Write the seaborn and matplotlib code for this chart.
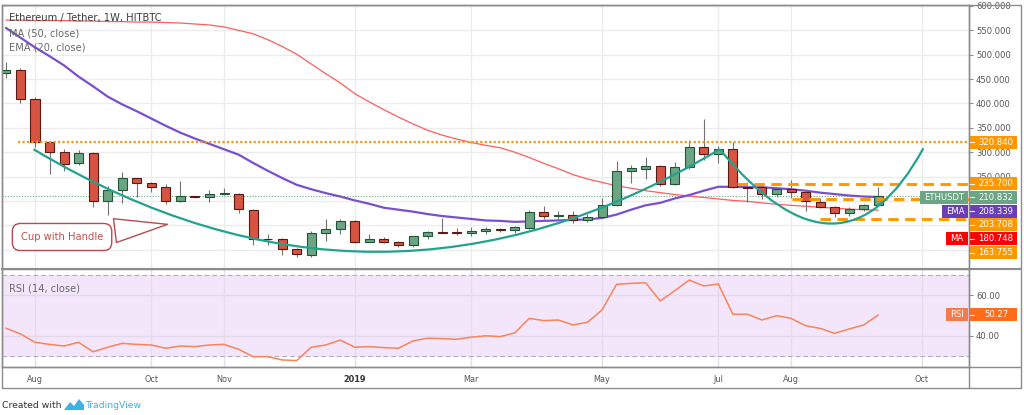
import matplotlib
matplotlib.use("Agg")
import matplotlib.pyplot as plt
import seaborn as sns
from matplotlib.path import Path
from matplotlib.patches import PathPatch, Rectangle, Polygon

# weekly ETH/USDT candles, first week = 2018-07-23
opens  = [462, 469, 409, 320, 301, 277, 298, 199, 222, 246, 237, 229, 200, 210, 209, 214, 214, 182, 122, 122,
          101, 90, 134, 142, 158, 116, 122, 116, 110, 127, 137, 137, 135, 138, 142, 140, 145, 177, 170, 172,
          161, 166, 191, 262, 266, 271, 234, 270, 310, 296, 306, 229, 228, 214, 225, 218, 198, 188, 175, 184, 191]
highs  = [485, 472, 414, 322, 307, 304, 300, 231, 260, 248, 239, 234, 241, 211, 222, 227, 216, 184, 132, 124,
          103, 138, 163, 162, 160, 132, 125, 118, 129, 138, 165, 145, 146, 147, 144, 149, 181, 190, 179, 179,
          174, 207, 282, 273, 291, 273, 279, 324, 368, 313, 321, 238, 233, 226, 242, 222, 205, 190, 188, 193, 228]
lows   = [452, 401, 311, 255, 262, 274, 188, 172, 195, 209, 219, 193, 198, 206, 198, 212, 176, 109, 110, 90,
          85, 84, 118, 133, 114, 115, 114, 105, 106, 121, 134, 131, 127, 133, 137, 134, 143, 163, 162, 155,
          156, 164, 190, 236, 245, 231, 233, 265, 284, 277, 227, 198, 203, 209, 205, 180, 185, 167, 170, 180, 190]
closes = [469, 409, 320, 301, 276, 298, 199, 222, 248, 236, 229, 200, 210, 208, 215, 217, 183, 122, 121, 101,
          91, 135, 142, 158, 116, 122, 116, 110, 128, 136, 135, 134, 139, 142, 140, 146, 177, 170, 172, 161,
          166, 191, 262, 267, 271, 234, 270, 310, 296, 306, 229, 227, 214, 224, 219, 199, 188, 175, 184, 191, 210.832]

ma50 = [571, 571, 570, 570, 570, 569, 569, 568, 568, 567, 567, 566, 565, 563, 561, 557, 550, 543, 531, 517,
        501, 481, 461, 442, 420, 403, 387, 372, 358, 345, 335, 327, 320, 314, 309, 300, 289, 277, 266, 254,
        245, 238, 231, 226, 221, 217, 213, 210, 207, 204, 201, 199, 196, 193, 191, 189, 187, 185, 183, 182, 181]
ema20 = [555, 535, 515, 497, 478, 455, 435, 414, 398, 384, 369, 354, 340, 328, 317, 306, 295, 278, 262, 247,
         233, 224, 216, 209, 201, 194, 186, 182, 178, 173, 169, 166, 163, 160, 159, 157, 158, 159, 160, 161,
         162, 165, 172, 182, 191, 196, 205, 212, 221, 229, 229, 228, 228, 226, 224, 221, 217, 214, 211, 209, 208]
rsi = [43.8, 41.0, 36.9, 35.9, 35.1, 36.9, 32.3, 34.5, 36.4, 35.9, 35.6, 34.0, 35.1, 34.8, 35.6, 35.9, 33.5,
       29.9, 29.9, 28.3, 28.0, 34.5, 35.6, 38.0, 34.5, 34.8, 34.3, 34.0, 37.6, 38.9, 38.7, 38.4, 39.4, 40.1,
       39.7, 41.5, 48.6, 47.5, 47.8, 45.4, 46.7, 52.7, 65.2, 65.7, 66.0, 57.1, 62.1, 67.3, 64.4, 65.4, 50.6,
       50.6, 47.8, 49.9, 48.6, 45.0, 43.7, 41.3, 43.4, 45.4, 50.27]

month_idx = [2, 10, 15, 24, 32, 41, 49, 54, 63]
month_lbl = ["Aug", "Oct", "Nov", "2019", "Mar", "May", "Jul", "Aug", "Oct"]
price_ticks = [250, 300, 350, 400, 450, 500, 550, 600]

resistance = 320.84
handle_top, handle_mid, handle_low = 235.70, 203.708, 163.755
ema_last, ma_last = 208.339, 180.748
# hand drawn cup & handle (quadratic bezier anchor points, week index / price)
cup_pts = [(1.9, 306), (25.5, -115), (49.1, 306)]
handle_pts = [(49.1, 306), (57.5, 0), (63.1, 308)]

UP, DOWN = "#6ba583", "#d75442"
UP_EDGE, DOWN_EDGE = "#225437", "#5b1a13"
ORANGE = "#ff9800"
GRID = "#ececec"
FRAME = "#8c8c8c"
TXT = "#555555"

sns.set_style("white")
plt.rcParams["font.family"] = ["DejaVu Sans"]

W, H = 1024, 415
fig = plt.figure(figsize=(W / 100, H / 100), dpi=100)
ax = fig.add_axes([2 / W, (H - 269) / H, 967 / W, 264 / H])
axr = fig.add_axes([2 / W, (H - 366.5) / H, 967 / W, 97.5 / H])

x = list(range(len(closes)))
xlim = (-0.27, 66.24)

# ---- main price panel ----
ax.set_xlim(*xlim)
ax.set_ylim(60.3, 602)
for p in range(100, 601, 50):
    ax.axhline(p, color=GRID, lw=1, zorder=0)
for m in month_idx:
    ax.axvline(m, color=GRID, lw=1, zorder=0)

ax.axhline(closes[-1], color=UP, lw=0.8, ls=(0, (1, 1.5)), zorder=1)

sns.lineplot(x=x, y=ma50, ax=ax, color="#ff5c5c", lw=0.9, zorder=2)
sns.lineplot(x=x, y=ema20, ax=ax, color="#7a4fcf", lw=1.6, zorder=2)

for i in x:
    o, h, l, c = opens[i], highs[i], lows[i], closes[i]
    up = c >= o
    ax.vlines(i, l, h, color="#737375", lw=0.8, zorder=3)
    ax.bar(i, max(abs(c - o), 1.6), bottom=min(o, c), width=0.62,
           color=UP if up else DOWN, edgecolor=UP_EDGE if up else DOWN_EDGE, lw=0.8, zorder=4)

# drawings
ax.hlines(resistance, 0.83, xlim[1], color=ORANGE, lw=1.6, linestyles=(0, (1, 1)), zorder=5)
for lvl, start in ((handle_top, 50.3), (handle_mid, 54.1), (handle_low, 56.0)):
    ax.hlines(lvl, start, xlim[1], color=ORANGE, lw=2.1, linestyles=(0, (3.6, 2.2)), zorder=5)

for pts in (cup_pts, handle_pts):
    path = Path(pts, [Path.MOVETO, Path.CURVE3, Path.CURVE3])
    ax.add_patch(PathPatch(path, fc="none", ec="#22a38f", lw=1.6, zorder=6))

ax.annotate("Cup with Handle", xy=(11.3, 152.6), xytext=(3.86, 126), ha="center", va="center",
            fontsize=7.2, color="#c0504d", zorder=7,
            bbox=dict(boxstyle="round,pad=0.85,rounding_size=0.8", fc="white", ec="#b84a50", lw=1),
            arrowprops=dict(arrowstyle="wedge,tail_width=2.4,shrink_factor=0.5",
                            fc="white", ec="#b84a50", lw=1))

ax.yaxis.tick_right()
ax.set_yticks(price_ticks)
ax.set_yticklabels([f"{p:.3f}" for p in price_ticks])
ax.set_xticks(month_idx)
ax.set_xticklabels([])
ax.tick_params(axis="y", length=3, width=0.8, color=FRAME, labelsize=6.1, labelcolor=TXT, pad=2)
ax.tick_params(axis="x", length=0)
for s in ax.spines.values():
    s.set_color(FRAME)
    s.set_linewidth(1)

ax.text(0.007, 0.95, "Ethereum / Tether, 1W, HITBTC", transform=ax.transAxes, fontsize=7.1, color="#3c3c3c", va="center")
ax.text(0.007, 0.893, "MA (50, close)", transform=ax.transAxes, fontsize=7.1, color="#6a6a6a", va="center")
ax.text(0.007, 0.840, "EMA (20, close)", transform=ax.transAxes, fontsize=7.1, color="#6a6a6a", va="center")

# ---- RSI panel ----
axr.set_xlim(*xlim)
axr.set_ylim(25.1, 72.7)
axr.axhspan(30, 70, color="#f3e6fb", zorder=0)
for v in (40, 60):
    axr.axhline(v, color="#e2d8ea", lw=1, zorder=0.5)
for m in month_idx:
    axr.axvline(m, color="#e4dcea", lw=1, zorder=0.5)
for v in (30, 70):
    axr.axhline(v, color="#b3adb8", lw=0.8, ls=(0, (4, 3)), zorder=1)
sns.lineplot(x=x, y=rsi, ax=axr, color="#f7845a", lw=1.1, zorder=2)
axr.yaxis.tick_right()
axr.set_yticks([40, 60])
axr.set_yticklabels(["40.00", "60.00"])
axr.set_xticks(month_idx)
axr.set_xticklabels(month_lbl)
axr.tick_params(axis="y", length=3, width=0.8, color=FRAME, labelsize=6.1, labelcolor=TXT, pad=2)
axr.tick_params(axis="x", length=3, width=0.8, color=FRAME, labelsize=5.9, labelcolor=TXT, pad=3)
for t in axr.get_xticklabels():
    if t.get_text() == "2019":
        t.set_fontweight("bold")
        t.set_color("#333333")
for s in axr.spines.values():
    s.set_color(FRAME)
    s.set_linewidth(1)
for a in (ax, axr):
    a.set_xlabel("")
    a.set_ylabel("")
axr.text(0.007, 0.80, "RSI (14, close)", transform=axr.transAxes, fontsize=7.1, color="#6a6a6a", va="center")

# ---- overlay: frame, price tags, footer ----
ov = fig.add_axes([0, 0, 1, 1], zorder=10)
ov.set_xlim(0, W)
ov.set_ylim(H, 0)
ov.axis("off")
ov.patch.set_visible(False)
ov.plot([2, 1021, 1021, 2, 2], [5, 5, 388, 388, 5], color=FRAME, lw=1)
ov.plot([969, 969], [5, 388], color=FRAME, lw=1)
ov.plot([2, 1021], [269, 269], color=FRAME, lw=1.5)
ov.plot([2, 1021], [366.5, 366.5], color=FRAME, lw=1)


def py(axis, v):
    return H - axis.transData.transform((0, v))[1]


def tag(yy, text, color, name=None, name_x0=None, name_color=None):
    ov.add_patch(Rectangle((970, yy - 6.5), 47, 13, fc=color, ec="none"))
    ov.plot([970, 974], [yy, yy], color="white", lw=0.8)
    ov.text(996, yy, text, color="white", fontsize=6.1, ha="center", va="center")
    if name:
        ov.add_patch(Rectangle((name_x0, yy - 6.5), 968 - name_x0, 13, fc=name_color, ec="none"))
        ov.text((name_x0 + 968) / 2, yy, name, color="white", fontsize=6.1, ha="center", va="center")


tags = [
    (resistance, f"{resistance:.3f}", ORANGE, None, None, None),
    (handle_top, f"{handle_top:.3f}", ORANGE, None, None, None),
    (closes[-1], f"{closes[-1]:.3f}", UP, "ETHUSDT", 920, UP),
    (ema_last, f"{ema_last:.3f}", "#6a3fb5", "EMA", 942, "#6a3fb5"),
    (handle_mid, f"{handle_mid:.3f}", ORANGE, None, None, None),
    (ma_last, f"{ma_last:.3f}", "#ff0000", "MA", 946, "#ff0000"),
    (handle_low, f"{handle_low:.3f}", ORANGE, None, None, None),
]
prev = -100
for val, txt, col, nm, nx, nc in tags:
    yy = max(py(ax, val), prev + 13.8)
    prev = yy
    tag(yy, txt, col, nm, nx, nc)

tag(py(axr, rsi[-1]), f"{rsi[-1]:.2f}", "#ff6d1a", "RSI", 946, "#f77a4a")

ov.text(2, 405, "Created with", fontsize=6.7, color="#333333", va="center")
ov.add_patch(Polygon([(64, 410), (70, 402), (74, 406), (79, 399), (84, 405), (84, 410)],
                     closed=True, fc="#3bb3e4", ec="none"))
ov.text(85, 405, "TradingView", fontsize=6.7, color="#3bb3e4", va="center")

fig.savefig("out.png", dpi=100)
